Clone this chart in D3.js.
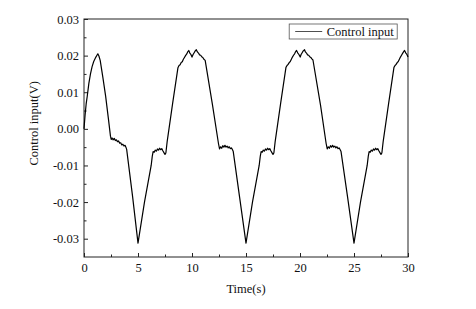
<!DOCTYPE html>
<html>
<head>
<meta charset="utf-8">
<script src="https://cdn.jsdelivr.net/npm/d3@7"></script>
<style>
  body { margin: 0; background: #fff; }
  text { font-family: "Liberation Serif", "Times New Roman", serif; fill: #111; }
</style>
</head>
<body>
<svg class="chart" width="476" height="309"></svg>
<script>
// time (s), control input (V)
const controlInput = [
  [0.00, 0.0000], [0.10, 0.0038], [0.20, 0.0068], [0.30, 0.0089], [0.45, 0.0124],
  [0.60, 0.0150], [0.75, 0.0170], [0.90, 0.0184], [1.00, 0.0190], [1.10, 0.0196],
  [1.20, 0.0201], [1.28, 0.0205], [1.38, 0.0199], [1.50, 0.0187], [1.75, 0.0140],
  [2.00, 0.0090], [2.25, 0.0030], [2.45, -0.0020], [2.52, -0.0029], [2.60, -0.0025],
  [2.70, -0.0030], [2.80, -0.0026], [2.90, -0.0032], [3.00, -0.0030], [3.10, -0.0035],
  [3.20, -0.0033], [3.30, -0.0039], [3.40, -0.0038], [3.50, -0.0044], [3.60, -0.0042],
  [3.70, -0.0047], [3.80, -0.0045], [3.88, -0.0050], [3.95, -0.0056], [4.50, -0.0185],
  [5.00, -0.0312], [5.60, -0.0200], [6.22, -0.0100], [6.32, -0.0075], [6.40, -0.0062],
  [6.50, -0.0064], [6.60, -0.0058], [6.70, -0.0061], [6.80, -0.0055], [6.90, -0.0058],
  [7.00, -0.0053], [7.10, -0.0057], [7.20, -0.0054], [7.30, -0.0060], [7.40, -0.0065],
  [7.50, -0.0070], [7.58, -0.0066], [7.70, -0.0035], [8.20, 0.0068], [8.70, 0.0167],
  [8.80, 0.0173], [8.90, 0.0175], [9.00, 0.0181], [9.10, 0.0183], [9.20, 0.0190],
  [9.30, 0.0195], [9.40, 0.0200], [9.50, 0.0204], [9.60, 0.0210], [9.70, 0.0214],
  [9.80, 0.0207], [9.90, 0.0203], [10.00, 0.0196], [10.10, 0.0203], [10.20, 0.0208],
  [10.30, 0.0213], [10.40, 0.0216], [10.50, 0.0210], [10.60, 0.0207], [10.70, 0.0202],
  [10.80, 0.0201], [10.90, 0.0197], [11.00, 0.0195], [11.10, 0.0190], [11.22, 0.0187],
  [11.90, 0.0065], [12.45, -0.0040], [12.55, -0.0055], [12.65, -0.0049], [12.75, -0.0053],
  [12.85, -0.0046], [12.95, -0.0050], [13.05, -0.0045], [13.15, -0.0050], [13.25, -0.0047],
  [13.35, -0.0052], [13.45, -0.0049], [13.55, -0.0054], [13.65, -0.0052], [13.75, -0.0057],
  [13.82, -0.0062], [14.40, -0.0185], [15.00, -0.0312], [15.60, -0.0200], [16.22, -0.0100],
  [16.32, -0.0075], [16.40, -0.0062], [16.50, -0.0064], [16.60, -0.0058], [16.70, -0.0061],
  [16.80, -0.0055], [16.90, -0.0058], [17.00, -0.0053], [17.10, -0.0057], [17.20, -0.0054],
  [17.30, -0.0060], [17.40, -0.0065], [17.50, -0.0070], [17.58, -0.0066], [17.70, -0.0035],
  [18.20, 0.0068], [18.70, 0.0168], [18.80, 0.0173], [18.90, 0.0176], [19.00, 0.0181],
  [19.10, 0.0184], [19.20, 0.0190], [19.30, 0.0196], [19.40, 0.0201], [19.50, 0.0205],
  [19.60, 0.0211], [19.68, 0.0214], [19.80, 0.0207], [19.90, 0.0203], [20.02, 0.0196],
  [20.10, 0.0203], [20.20, 0.0208], [20.30, 0.0213], [20.42, 0.0216], [20.50, 0.0210],
  [20.60, 0.0207], [20.70, 0.0202], [20.80, 0.0201], [20.90, 0.0197], [21.00, 0.0195],
  [21.10, 0.0191], [21.20, 0.0188], [21.90, 0.0065], [22.42, -0.0040], [22.52, -0.0055],
  [22.62, -0.0049], [22.72, -0.0053], [22.82, -0.0046], [22.92, -0.0050], [23.02, -0.0045],
  [23.12, -0.0050], [23.22, -0.0047], [23.32, -0.0052], [23.42, -0.0049], [23.52, -0.0054],
  [23.62, -0.0052], [23.72, -0.0057], [23.80, -0.0062], [24.40, -0.0185], [25.00, -0.0312],
  [25.60, -0.0200], [26.22, -0.0100], [26.32, -0.0075], [26.40, -0.0062], [26.50, -0.0064],
  [26.60, -0.0058], [26.70, -0.0061], [26.80, -0.0055], [26.90, -0.0058], [27.00, -0.0053],
  [27.10, -0.0057], [27.20, -0.0054], [27.30, -0.0060], [27.40, -0.0065], [27.50, -0.0070],
  [27.58, -0.0066], [27.70, -0.0035], [28.20, 0.0068], [28.70, 0.0168], [28.80, 0.0173],
  [28.90, 0.0176], [29.00, 0.0181], [29.10, 0.0184], [29.20, 0.0190], [29.30, 0.0196],
  [29.40, 0.0201], [29.50, 0.0206], [29.60, 0.0211], [29.68, 0.0214], [29.80, 0.0207],
  [29.90, 0.0203], [30.00, 0.0196]
];

const xTicks = [0, 5, 10, 15, 20, 25, 30];
const xMinorTicks = [2.5, 7.5, 12.5, 17.5, 22.5, 27.5];
const yTicks = [-0.03, -0.02, -0.01, 0.00, 0.01, 0.02, 0.03];
const yMinorTicks = [-0.025, -0.015, -0.005, 0.005, 0.015, 0.025];
const seriesName = 'Control input';

const svg = d3.select('.chart');
const margin = { left: 84, top: 19, right: 68, bottom: 52 };
const width = +svg.attr('width') - margin.left - margin.right;
const height = +svg.attr('height') - margin.top - margin.bottom;

const x = d3.scaleLinear().domain([0, 30]).range([0, width]);
const y = d3.scaleLinear().domain([-0.035, 0.03]).range([height, 0]);

const g = svg.append('g')
  .attr('transform', `translate(${margin.left},${margin.top})`);

const fmt = v => d3.format('.2f')(v).replace('\u2212', '-');

g.append('g')
  .attr('transform', `translate(0,${height})`)
  .call(d3.axisBottom(x).tickValues(xTicks).tickSize(-4).tickPadding(6).tickFormat(d3.format('d')));
g.append('g')
  .attr('transform', `translate(0,${height})`)
  .call(d3.axisBottom(x).tickValues(xMinorTicks).tickSize(-2.5).tickFormat(''));

g.append('g')
  .call(d3.axisLeft(y).tickValues(yTicks).tickSize(-4).tickPadding(5).tickFormat(fmt));
g.append('g')
  .call(d3.axisLeft(y).tickValues(yMinorTicks).tickSize(-2.5).tickFormat(''));

g.selectAll('.domain').remove();
g.selectAll('.tick line').attr('stroke', '#222');
g.selectAll('.tick text')
  .style('font-family', '"Liberation Serif", serif')
  .style('font-size', '12.5px')
  .attr('fill', '#111');

// frame
g.append('rect')
  .attr('width', width)
  .attr('height', height)
  .attr('fill', 'none')
  .attr('stroke', '#222')
  .attr('stroke-width', 1);

const line = d3.line()
  .x(d => x(d[0]))
  .y(d => y(d[1]));

g.append('path')
  .datum(controlInput)
  .attr('fill', 'none')
  .attr('stroke', '#000')
  .attr('stroke-width', 1.2)
  .attr('stroke-linejoin', 'round')
  .attr('d', line);

// axis titles
g.append('text')
  .attr('x', x(15))
  .attr('y', height + 36)
  .attr('text-anchor', 'middle')
  .style('font-size', '12.5px')
  .text('Time(s)');

g.append('text')
  .attr('transform', `translate(${-46},${y(0.0015)}) rotate(-90)`)
  .attr('text-anchor', 'middle')
  .style('font-size', '12.5px')
  .text('Control input(V)');

// legend
const legend = g.append('g')
  .attr('transform', `translate(${x(19.0)},${5})`);
legend.append('rect')
  .attr('width', 108)
  .attr('height', 15)
  .attr('fill', '#fff')
  .attr('stroke', '#555')
  .attr('stroke-width', 0.8);
legend.append('line')
  .attr('x1', 6).attr('x2', 33)
  .attr('y1', 7.5).attr('y2', 7.5)
  .attr('stroke', '#222')
  .attr('stroke-width', 0.8);
legend.append('text')
  .attr('x', 37.5)
  .attr('y', 12)
  .style('font-size', '12.5px')
  .text(seriesName);
</script>
</body>
</html>
